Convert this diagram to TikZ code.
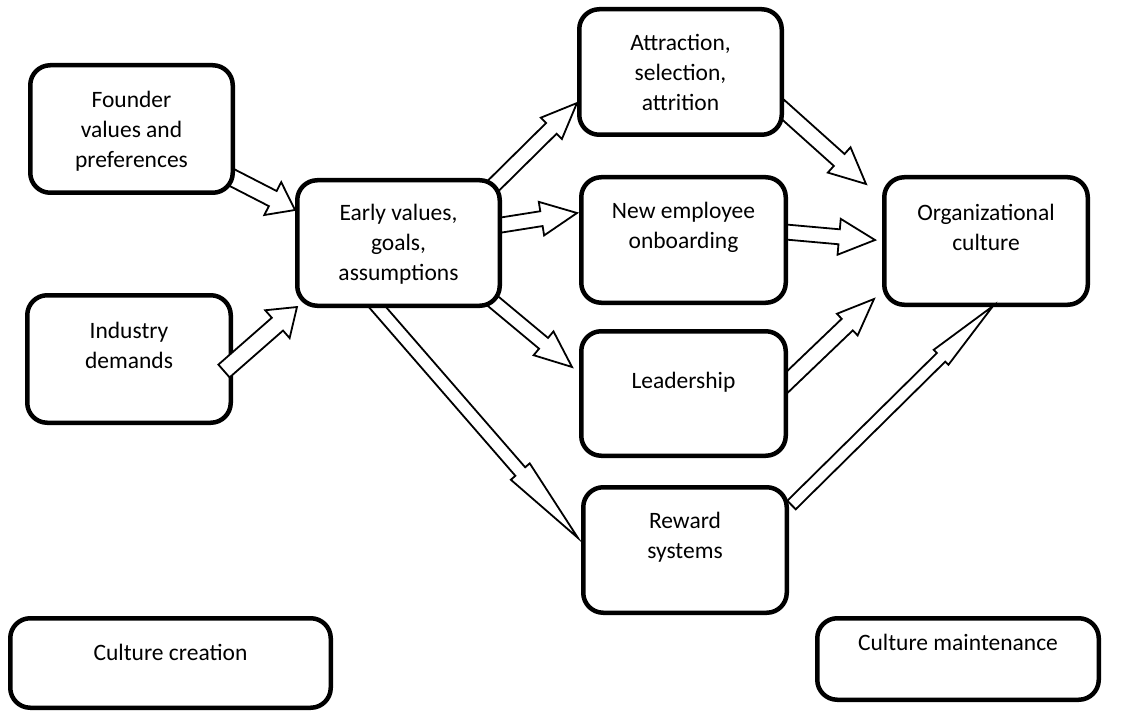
\documentclass[tikz,border=0pt]{standalone}
\usepackage{fontspec}
\setmainfont{Carlito}
\usetikzlibrary{calc}
\pgfdeclarelayer{background}
\pgfsetlayers{background,main}

\tikzset{
  box/.style={draw=black, line width=4.5pt, rounded corners=20pt, fill=white, inner sep=0pt},
  txt/.style={inner sep=0pt, align=center, anchor=north, font=\fontsize{23.5}{30}\selectfont},
  hollow/.style={draw=black, line width=1.8pt, fill=white, line join=miter, miter limit=20},
}

% hollow block arrow: #1 tail, #2 tip, #3 shaft width, #4 head width, #5 head length (pt)
\newcommand\blockarrow[5]{%
  \path (#1) coordinate (bat) (#2) coordinate (bap);
  \pgfpointdiff{\pgfpointanchor{bat}{center}}{\pgfpointanchor{bap}{center}}%
  \pgfgetlastxy{\badx}{\bady}%
  \pgfmathsetmacro\balen{veclen(\badx,\bady)}%
  \pgfmathsetmacro\baang{atan2(\bady,\badx)}%
  \draw[hollow, shift={(bat)}, rotate=\baang]
    (0pt,{-#3pt/2}) -- ({(\balen-#5)*1pt},{-#3pt/2}) -- ({(\balen-#5)*1pt},{-#4pt/2})
    -- ({\balen*1pt},0pt) -- ({(\balen-#5)*1pt},{#4pt/2}) -- ({(\balen-#5)*1pt},{#3pt/2})
    -- (0pt,{#3pt/2}) -- cycle;
}

\begin{document}
\begin{tikzpicture}[x=1pt, y=-1pt]
\useasboundingbox (0,0) rectangle (1131,711);

% boxes
\node[box, minimum width=202.5pt, minimum height=127.5pt] (fv)   at (131.5,129) {};
\node[box, minimum width=203.5pt, minimum height=127.5pt] (ind)  at (129,359) {};
\node[box, minimum width=202.5pt, minimum height=125.5pt] (ev)   at (398.5,243) {};
\node[box, minimum width=202.5pt, minimum height=125.5pt] (asa)  at (680.5,72) {};
\node[box, minimum width=204.5pt, minimum height=125.5pt] (neo)  at (683.5,240) {};
\node[box, minimum width=204.5pt, minimum height=124.5pt] (lead) at (683.5,393.5) {};
\node[box, minimum width=203.5pt, minimum height=125.5pt] (rew)  at (685,550) {};
\node[box, minimum width=203.5pt, minimum height=127.5pt] (org)  at (986,241) {};
\node[box, minimum width=320.5pt, minimum height=89.5pt]  (cc)   at (170.5,663) {};
\node[box, minimum width=281.5pt, minimum height=81.5pt]  (cm)   at (958,659) {};

% labels
\node[txt] (fv-t)   at (131.5,87)  {\rule{0pt}{20pt}Founder\\values and\\preferences};
\node[txt] (ind-t)  at (129,318)   {\rule{0pt}{20pt}Industry\\demands};
\node[txt] (ev-t)   at (398.5,200) {\rule{0pt}{20pt}Early values,\\goals,\\assumptions};
\node[txt] (asa-t)  at (680.5,30)  {\rule{0pt}{20pt}Attraction,\\selection,\\attrition};
\node[txt] (neo-t)  at (683.5,198) {\rule{0pt}{20pt}New employee\\onboarding};
\node[txt] (lead-t) at (683.5,368) {\rule{0pt}{20pt}Leadership};
\node[txt] (rew-t)  at (685,508)   {\rule{0pt}{20pt}Reward\\systems};
\node[txt] (org-t)  at (986,200)   {\rule{0pt}{20pt}Organizational\\culture};
\node[txt] (cc-t)   at (170.5,640) {\rule{0pt}{20pt}Culture creation};
\node[txt] (cm-t)   at (958,630)   {\rule{0pt}{20pt}Culture maintenance};

% arrows whose tails sit behind their boxes
\begin{pgfonlayer}{background}
\blockarrow{$(fv.center)+(91.5,44)$}{$(ev.center)+(-103.5,-33)$}{17}{37}{25}
\blockarrow{$(ev.center)+(90.5,-53)$}{$(asa.center)+(-103.5,31)$}{15}{30}{36}
\blockarrow{$(ev.center)+(96.5,-17)$}{$(neo.center)+(-106.5,-27)$}{15}{34}{36}
\blockarrow{$(ev.center)+(89.5,54)$}{$(lead.center)+(-111.5,-26.5)$}{14}{31}{37}
\blockarrow{$(ev.center)+(-25.5,59)$}{$(rew.center)+(-107,-12)$}{13}{25}{88}
\blockarrow{$(asa.center)+(98.5,34)$}{$(org.center)+(-120,-57)$}{16}{34}{36}
\blockarrow{$(neo.center)+(96.5,-8.5)$}{$(org.center)+(-111,-1)$}{15}{36}{36}
\blockarrow{$(lead.center)+(96.5,-4.5)$}{$(org.center)+(-112,58)$}{16}{30}{37}
\end{pgfonlayer}

% arrows drawn over their source boxes
\blockarrow{$(ind.center)+(95,12)$}{$(ev.center)+(-101.5,64)$}{17}{37}{26}
\blockarrow{$(rew.center)+(106.5,-45)$}{$(org.center)+(7,65)$}{12}{21}{73}
\end{tikzpicture}
\end{document}
